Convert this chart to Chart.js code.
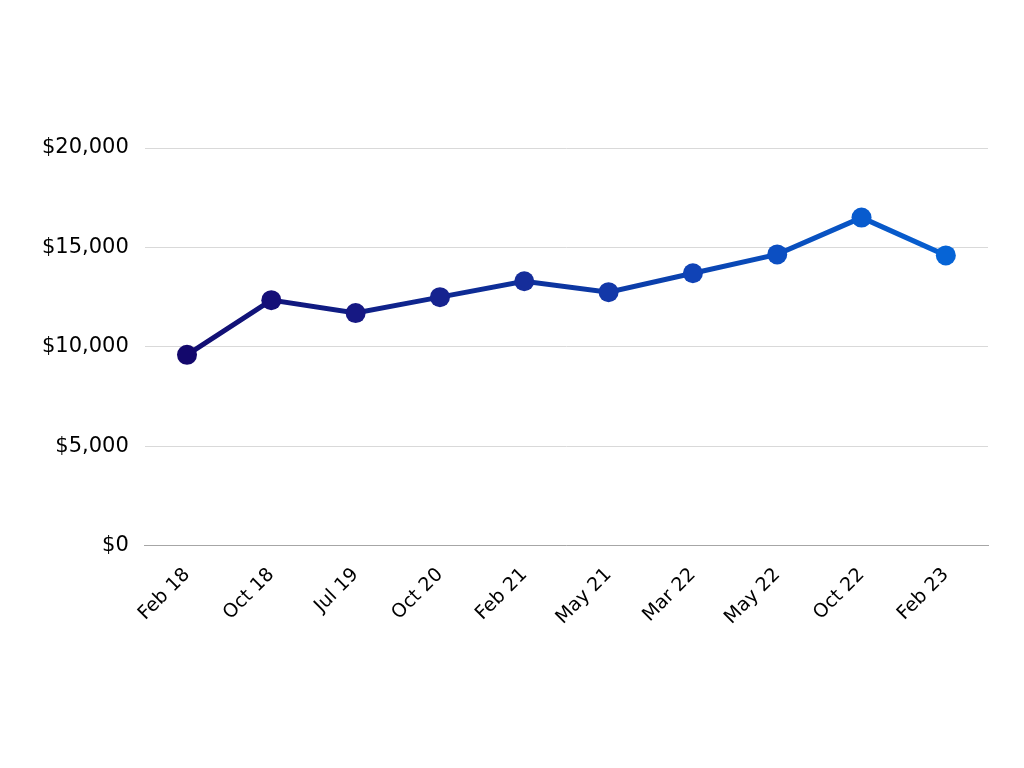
<!DOCTYPE html>
<html>
<head>
<meta charset="utf-8">
<script src="https://cdn.jsdelivr.net/npm/chart.js@4"></script>
<style>
  html,body{margin:0;padding:0;background:#fff;}
  #wrap{width:1024px;height:768px;}
</style>
</head>
<body>
<div id="wrap"><canvas id="chart" width="1024" height="768"></canvas></div>
<script>
// Price history
const labels = ['Feb 18','Oct 18','Jul 19','Oct 20','Feb 21','May 21','Mar 22','May 22','Oct 22','Feb 23'];
const prices = [9600, 12350, 11700, 12500, 13300, 12750, 13700, 14650, 16500, 14600];
const yTicks = [0, 5000, 10000, 15000, 20000];
const pointColors = ['#13086c','#150f78','#161883','#16238f','#152d9a','#1338a8','#1043b6','#0c4fc2','#085bce','#0664d6'];

const ctx = document.getElementById('chart').getContext('2d');

function lineGradient(chart){
  const {ctx, chartArea} = chart;
  if (!chartArea) return pointColors[0];
  const g = ctx.createLinearGradient(chartArea.left, 0, chartArea.right, 0);
  g.addColorStop(0, pointColors[0]);
  g.addColorStop(1, pointColors[pointColors.length-1]);
  return g;
}

new Chart(ctx, {
  type:'line',
  data:{labels, datasets:[{
    data:prices,
    borderColor: c => lineGradient(c.chart),
    borderWidth:5,
    pointBackgroundColor:pointColors,
    pointBorderColor:pointColors,
    pointRadius:10,
    pointBorderWidth:0,
    tension:0
  }]},
  options:{
    responsive:false,
    animation:false,
    layout:{padding:{top:148, right:36, bottom:121, left:26}},
    plugins:{legend:{display:false}, tooltip:{enabled:false}},
    scales:{
      x:{
        offset:true,
        grid:{display:false, drawTicks:false},
        border:{display:true, color:'#a6a6a6', width:1},
        ticks:{color:'#000', maxRotation:45, minRotation:45, padding:18,
          font:{family:'"DejaVu Sans", sans-serif', size:19}}
      },
      y:{
        min:0, max:20000,
        afterBuildTicks: ax => { ax.ticks = yTicks.map(v => ({value:v})); },
        grid:{color:'#d9d9d9', drawTicks:false},
        border:{display:false},
        ticks:{color:'#000', padding:16,
          font:{family:'"DejaVu Sans", sans-serif', size:21},
          callback: v => '$' + v.toLocaleString('en-US')}
      }
    }
  }
});
</script>
</body>
</html>
